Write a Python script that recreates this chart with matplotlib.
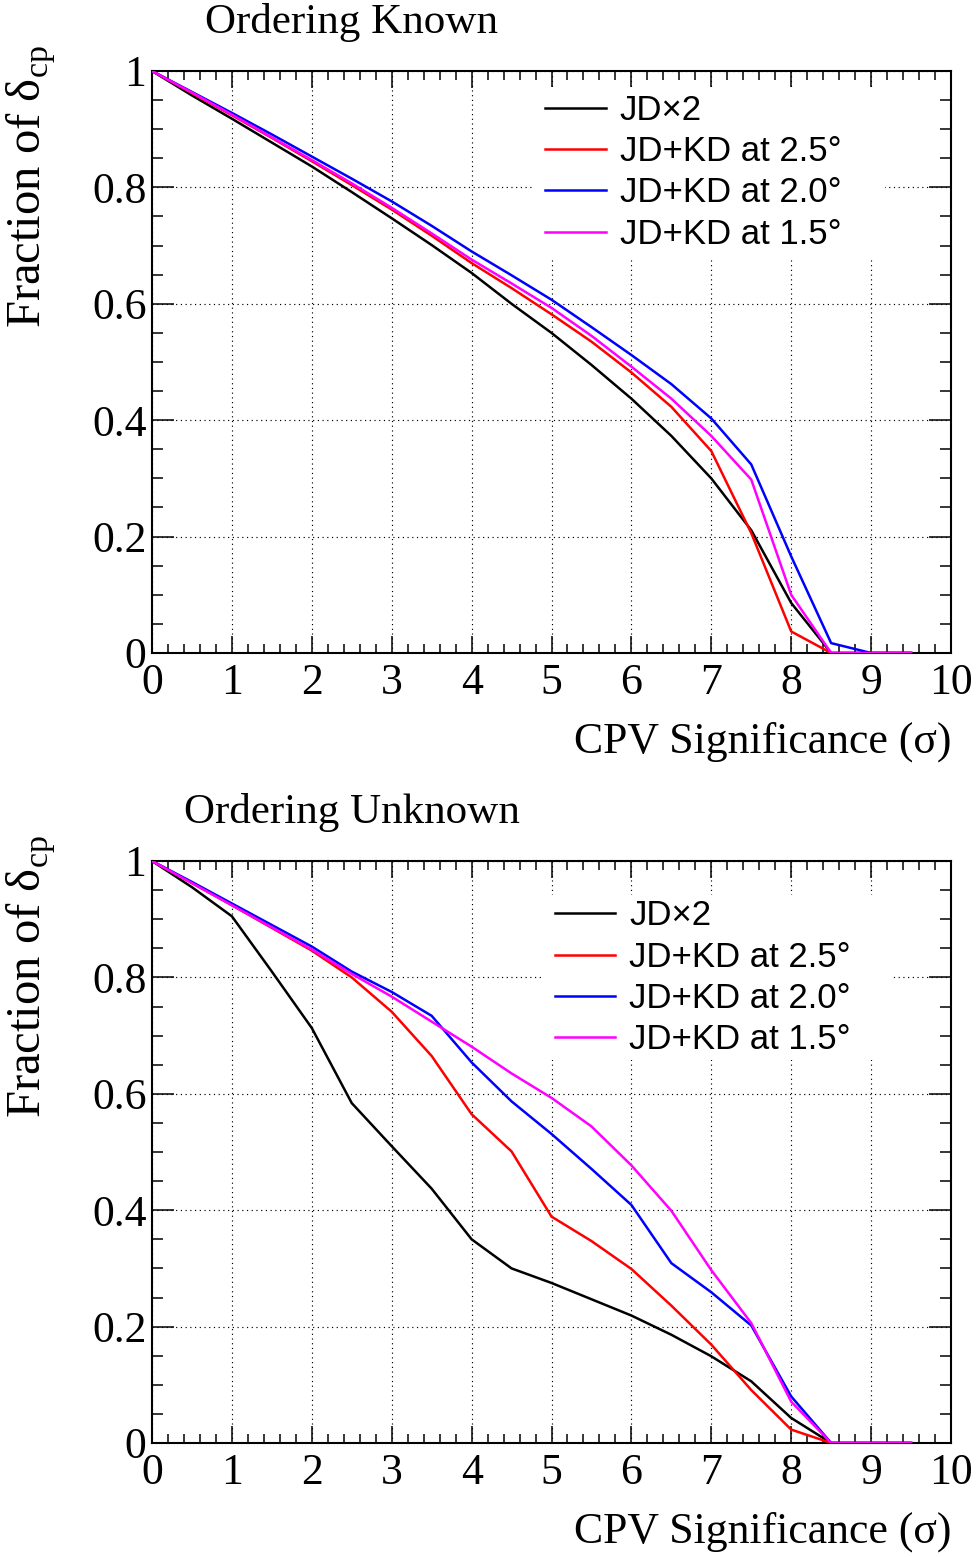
import numpy as np
import matplotlib.pyplot as plt
from matplotlib.ticker import MultipleLocator, FormatStrFormatter
from matplotlib.patches import Rectangle

plt.rcParams['font.family'] = ['Liberation Serif', 'DejaVu Serif']
plt.rcParams['mathtext.fontset'] = 'custom'
plt.rcParams['mathtext.rm'] = 'Liberation Serif'

sigma = [0, 0.5, 1, 1.5, 2, 2.5, 3, 3.5, 4, 4.5, 5, 5.5, 6, 6.5, 7, 7.5, 8, 8.5, 9, 9.5]

# ordering known
known_jd2 = [1, 0.958, 0.918, 0.877, 0.836, 0.792, 0.747, 0.701, 0.653, 0.600,
             0.550, 0.495, 0.437, 0.373, 0.300, 0.211, 0.086, 0, 0, 0]
known_25 = [1, 0.962, 0.924, 0.885, 0.845, 0.804, 0.762, 0.717, 0.670, 0.627,
            0.582, 0.535, 0.482, 0.423, 0.347, 0.206, 0.037, 0, 0, 0]
known_20 = [1, 0.964, 0.928, 0.891, 0.853, 0.815, 0.776, 0.734, 0.690, 0.649,
            0.607, 0.560, 0.512, 0.462, 0.403, 0.324, 0.166, 0.017, 0, 0]
known_15 = [1, 0.963, 0.925, 0.886, 0.847, 0.807, 0.765, 0.721, 0.676, 0.635,
            0.593, 0.545, 0.492, 0.437, 0.373, 0.298, 0.100, 0, 0, 0]

# ordering unknown
unknown_jd2 = [1, 0.955, 0.905, 0.810, 0.713, 0.584, 0.510, 0.437, 0.350, 0.300,
               0.275, 0.247, 0.219, 0.186, 0.149, 0.106, 0.043, 0, 0, 0]
unknown_25 = [1, 0.962, 0.924, 0.885, 0.846, 0.800, 0.741, 0.665, 0.565, 0.501,
              0.389, 0.347, 0.299, 0.236, 0.169, 0.091, 0.023, 0, 0, 0]
unknown_20 = [1, 0.964, 0.927, 0.890, 0.853, 0.810, 0.775, 0.734, 0.654, 0.587,
              0.531, 0.471, 0.409, 0.309, 0.259, 0.202, 0.080, 0, 0, 0]
unknown_15 = [1, 0.962, 0.924, 0.886, 0.848, 0.806, 0.767, 0.724, 0.681, 0.635,
              0.593, 0.544, 0.477, 0.399, 0.297, 0.206, 0.071, 0, 0, 0]

labels = ['JD\u00d72', 'JD+KD at 2.5\u00b0', 'JD+KD at 2.0\u00b0', 'JD+KD at 1.5\u00b0']
colors = ['black', '#ff0000', '#0000ff', '#ff00ff']

fig = plt.figure(figsize=(9.79, 15.57), dpi=100)
W, H = 979.0, 1557.0


def panel(top_px, series, title, box, leg_anchor):
    ax = fig.add_axes([152 / W, 1 - (top_px + 582) / H, 799 / W, 582 / H])
    for y, c, lab in zip(series, colors, labels):
        ax.plot(sigma, y, color=c, lw=1.8, label=lab, zorder=3)
    ax.set_xlim(0, 10)
    ax.set_ylim(0, 1)
    ax.xaxis.set_major_locator(MultipleLocator(1))
    ax.xaxis.set_minor_locator(MultipleLocator(0.2))
    ax.yaxis.set_major_locator(MultipleLocator(0.2))
    ax.yaxis.set_minor_locator(MultipleLocator(0.05))
    ax.yaxis.set_major_formatter(FormatStrFormatter('%g'))
    ax.tick_params(which='both', direction='in', top=True, right=True, width=1.1)
    ax.tick_params(axis='x', which='major', length=12.5, labelsize=31.5, pad=7)
    ax.tick_params(axis='x', which='minor', length=6.5)
    ax.tick_params(axis='y', which='major', length=15.5, labelsize=31.5, pad=4)
    ax.tick_params(axis='y', which='minor', length=8)
    for s in ax.spines.values():
        s.set_linewidth(1.5)
    ax.grid(True, which='major', color='black', lw=0.85, linestyle=(0, (1, 3)))
    ax.add_patch(Rectangle((box[0], box[1]), box[2] - box[0], box[3] - box[1],
                           facecolor='white', edgecolor='none', zorder=2))
    ax.legend(loc='upper left', bbox_to_anchor=leg_anchor, frameon=False,
              prop={'family': 'Liberation Sans', 'size': 25},
              handlelength=1.75, handletextpad=0.4, labelspacing=0.24,
              borderpad=0, borderaxespad=0)
    ax.text(1, -0.153, 'CPV Significance (\u03c3)', transform=ax.transAxes,
            ha='right', va='center', fontsize=31.5)
    ax.text(-0.151, 1.045, 'Fraction of \u03b4$_{\\mathrm{cp}}$', transform=ax.transAxes,
            rotation=90, ha='center', va='top', fontsize=35)
    fig.text(352 / W, 1 - (top_px - 49) / H, title, ha='center', va='center', fontsize=31)
    return ax


panel(71, [known_jd2, known_25, known_20, known_15], 'Ordering Known',
      (4.75, 0.68, 9.17, 0.972), (0.492, 0.961))
panel(861, [unknown_jd2, unknown_25, unknown_20, unknown_15], 'Ordering Unknown',
      (4.88, 0.658, 9.26, 0.942), (0.504, 0.934))

fig.savefig('out.png', dpi=100)
